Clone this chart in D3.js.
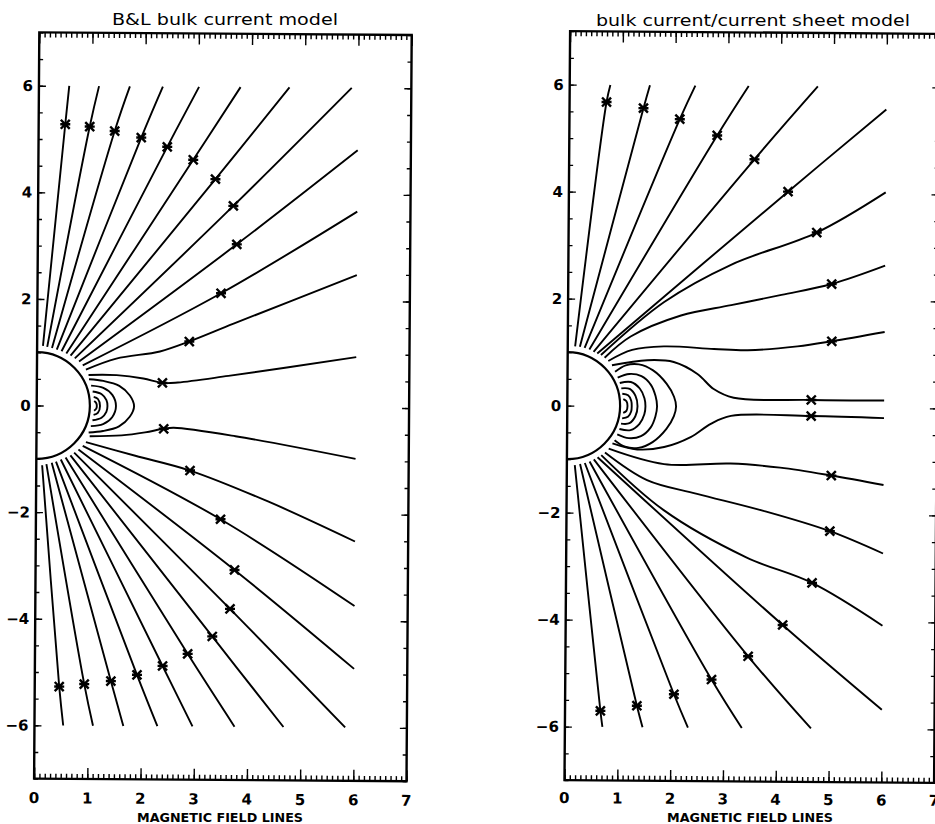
<!DOCTYPE html>
<html>
<head>
<meta charset="utf-8">
<script src="https://d3js.org/d3.v7.min.js"></script>
<style>
body { margin: 0; background: #fff; }
</style>
</head>
<body>
<svg id="viz" width="935" height="824"></svg>
<script>

var xTickLabels = [0, 1, 2, 3, 4, 5, 6, 7];
var yTickLabels = [-6, -4, -2, 0, 2, 4, 6];
var titles = ["B&L bulk current model", "bulk current/current sheet model"];
var xAxisTitle = "MAGNETIC FIELD LINES";
var sunRadius = 1;

// B&L bulk current model: open field lines, one asterisk each
var blLines = [
	[[0.11, 1.12], [0.50, 5.28], [0.57, 6.00]],
	[[0.19, 1.10], [0.96, 5.24], [1.13, 6.00]],
	[[0.28, 1.08], [1.43, 5.16], [1.71, 6.00]],
	[[0.37, 1.05], [1.93, 5.04], [2.33, 6.00]],
	[[0.46, 1.02], [2.42, 4.87], [3.01, 6.00]],
	[[0.55, 0.98], [2.91, 4.63], [3.79, 6.00]],
	[[0.63, 0.94], [3.33, 4.27], [4.71, 6.00]],
	[[0.71, 0.89], [3.67, 3.77], [5.88, 6.00]],
	[[0.79, 0.83], [3.74, 3.05], [6.00, 4.83]],
	[[0.86, 0.76], [3.45, 2.13], [6.00, 3.68]],
	[[0.92, 0.68], [1.49, 0.89], [2.31, 1.03], [2.86, 1.22], [3.69, 1.56], [6.00, 2.49]],
	[[0.97, 0.58], [1.50, 0.58], [2.00, 0.52], [2.36, 0.44], [2.65, 0.45], [3.60, 0.58], [6.00, 0.95]],
	[[1.00, -0.57], [1.60, -0.55], [2.04, -0.49], [2.39, -0.42], [2.58, -0.40], [3.74, -0.55], [6.00, -0.96]],
	[[0.93, -0.68], [1.86, -0.93], [2.89, -1.20], [4.36, -1.77], [6.00, -2.51]],
	[[0.87, -0.75], [3.47, -2.11], [6.00, -3.72]],
	[[0.79, -0.82], [3.74, -3.06], [6.00, -4.90]],
	[[0.71, -0.88], [3.66, -3.79], [5.84, -6.00]],
	[[0.64, -0.93], [3.33, -4.31], [4.68, -6.00]],
	[[0.55, -0.97], [2.87, -4.64], [3.76, -6.00]],
	[[0.46, -1.01], [2.40, -4.87], [2.97, -6.00]],
	[[0.37, -1.05], [1.92, -5.04], [2.31, -6.00]],
	[[0.29, -1.07], [1.43, -5.16], [1.67, -6.00]],
	[[0.19, -1.10], [0.93, -5.22], [1.10, -6.00]],
	[[0.11, -1.12], [0.46, -5.27], [0.54, -6.00]]
];
var blLoops = [
	[[0.98, 0.50], [1.25, 0.47], [1.55, 0.38], [1.75, 0.20], [1.83, 0], [1.75, -0.20], [1.55, -0.38], [1.25, -0.47], [0.98, -0.50]],
	[[1.02, 0.38], [1.25, 0.34], [1.42, 0.21], [1.49, 0], [1.42, -0.21], [1.25, -0.34], [1.02, -0.38]],
	[[1.05, 0.27], [1.22, 0.22], [1.31, 0.11], [1.33, 0], [1.31, -0.11], [1.22, -0.22], [1.05, -0.27]],
	[[1.07, 0.17], [1.15, 0.13], [1.19, 0], [1.15, -0.13], [1.07, -0.17]],
	[[1.08, 0.09], [1.12, 0.05], [1.13, 0], [1.12, -0.05], [1.08, -0.09]]
];
var blStars = [
	[0.50, 5.28], [0.96, 5.24], [1.43, 5.16], [1.93, 5.04], [2.42, 4.87], [2.91, 4.63],
	[3.33, 4.27], [3.67, 3.77], [3.74, 3.05], [3.45, 2.13], [2.86, 1.22], [2.36, 0.44],
	[2.39, -0.42], [2.89, -1.20], [3.47, -2.11], [3.74, -3.06], [3.66, -3.79], [3.33, -4.31],
	[2.87, -4.64], [2.40, -4.87], [1.92, -5.04], [1.43, -5.16], [0.93, -5.22], [0.46, -5.27]
];

// bulk current / current sheet model
var csLines = [
	[[0.14, 1.11], [0.70, 5.68], [0.77, 6.00]],
	[[0.23, 1.10], [1.40, 5.57], [1.52, 6.00]],
	[[0.32, 1.08], [2.09, 5.37], [2.38, 6.00]],
	[[0.41, 1.05], [2.80, 5.07], [3.39, 6.00]],
	[[0.49, 1.01], [3.51, 4.63], [4.70, 6.00]],
	[[0.56, 0.98], [4.15, 4.03], [6.00, 5.58]],
	[[0.63, 0.95], [1.82, 1.95], [3.09, 2.66], [4.70, 3.27], [6.00, 4.03]],
	[[0.70, 0.90], [1.19, 1.30], [2.14, 1.70], [3.09, 1.90], [4.04, 2.10], [4.99, 2.31], [6.00, 2.66]],
	[[0.77, 0.84], [1.22, 1.05], [1.82, 1.12], [2.77, 1.08], [3.41, 1.06], [4.35, 1.14], [5.00, 1.24], [6.00, 1.42]],
	[[0.84, 0.76], [1.51, 0.86], [2.01, 0.83], [2.46, 0.61], [2.77, 0.33], [3.15, 0.17], [4.62, 0.14], [6.00, 0.14]],
	[[0.86, -0.70], [1.33, -0.81], [1.84, -0.76], [2.34, -0.57], [2.72, -0.32], [3.10, -0.17], [4.62, -0.16], [6.00, -0.19]],
	[[0.79, -0.80], [1.84, -1.08], [3.10, -1.06], [4.04, -1.13], [5.01, -1.27], [6.00, -1.44]],
	[[0.72, -0.87], [1.52, -1.38], [2.47, -1.63], [3.73, -1.94], [4.99, -2.31], [6.00, -2.72]],
	[[0.65, -0.92], [1.84, -1.94], [3.41, -2.81], [4.66, -3.28], [6.00, -4.07]],
	[[0.58, -0.96], [4.11, -4.07], [6.00, -5.64]],
	[[0.51, -1.00], [3.46, -4.66], [4.66, -6.00]],
	[[0.43, -1.04], [2.77, -5.10], [3.35, -6.00]],
	[[0.34, -1.07], [2.06, -5.38], [2.33, -6.00]],
	[[0.25, -1.09], [1.36, -5.60], [1.47, -6.00]],
	[[0.15, -1.11], [0.67, -5.70], [0.71, -6.00]]
];
var csLoops = [
	[[0.90, 0.64], [1.10, 0.76], [1.35, 0.78], [1.62, 0.67], [1.88, 0.42], [2.02, 0.18], [2.06, 0], [2.02, -0.18], [1.88, -0.42], [1.62, -0.67], [1.35, -0.78], [1.10, -0.76], [0.90, -0.64]],
	[[0.95, 0.53], [1.17, 0.60], [1.40, 0.56], [1.58, 0.40], [1.67, 0.19], [1.70, 0], [1.67, -0.19], [1.58, -0.40], [1.40, -0.56], [1.17, -0.60], [0.95, -0.53]],
	[[0.99, 0.43], [1.20, 0.45], [1.37, 0.33], [1.46, 0.15], [1.48, 0], [1.46, -0.15], [1.37, -0.33], [1.20, -0.45], [0.99, -0.43]],
	[[1.02, 0.33], [1.18, 0.32], [1.29, 0.19], [1.33, 0], [1.29, -0.19], [1.18, -0.32], [1.02, -0.33]],
	[[1.04, 0.23], [1.15, 0.20], [1.21, 0.10], [1.22, 0], [1.21, -0.10], [1.15, -0.20], [1.04, -0.23]],
	[[1.06, 0.13], [1.12, 0.09], [1.14, 0], [1.12, -0.09], [1.06, -0.13]]
];
var csStars = [
	[0.70, 5.68], [1.40, 5.57], [2.09, 5.37], [2.80, 5.07], [3.51, 4.63], [4.15, 4.03],
	[4.70, 3.27], [4.99, 2.31], [5.00, 1.24], [4.62, 0.14],
	[4.62, -0.16], [5.01, -1.27], [4.99, -2.31], [4.66, -3.28], [4.11, -4.07], [3.46, -4.66],
	[2.77, -5.10], [2.06, -5.38], [1.36, -5.60], [0.67, -5.70]
];

var panels = [
	{title: titles[0], lines: blLines, loops: blLoops, stars: blStars,
	 cx: 222.9, cy: 406.8, ux: 53.2, uy: 53.3, rot: 0.4, labOff: 24.5,
	 titleX: 225, titleY: 25, titleW: 226, labX: 220, labY: 822},
	{title: titles[1], lines: csLines, loops: csLoops, stars: csStars,
	 cx: 752.1, cy: 407.0, ux: 52.8, uy: 53.5, rot: 0.43, labOff: 23,
	 titleX: 753, titleY: 26, titleW: 314, labX: 750, labY: 822}
];

var svg = d3.select("#viz");
var tickFont = "'DejaVu Sans', sans-serif";

panels.forEach(function(p) {
	var x = d3.scaleLinear().domain([0, 7]).range([p.cx - 3.5 * p.ux, p.cx + 3.5 * p.ux]);
	var y = d3.scaleLinear().domain([-7, 7]).range([p.cy + 7 * p.uy, p.cy - 7 * p.uy]);

	var g = svg.append("g")
		.attr("transform", "rotate(" + p.rot + "," + p.cx + "," + p.cy + ")");

	var xMinor = d3.range(0, 71).map(function(i) { return i / 10; });
	var xMajor = xTickLabels;
	var yMinor = d3.range(-14, 15).map(function(i) { return i / 2; });
	var yMajor = yTickLabels;

	function clean(sel) {
		sel.select(".domain").remove();
		sel.selectAll(".tick line").attr("stroke", "#000").attr("stroke-width", 1.4);
		sel.selectAll(".tick text").remove();
	}

	// ticks point into the plot on all four sides
	g.append("g").attr("transform", "translate(0," + y(7) + ")")
		.call(d3.axisBottom(x).tickValues(xMinor).tickSize(5)).call(clean);
	g.append("g").attr("transform", "translate(0," + y(7) + ")")
		.call(d3.axisBottom(x).tickValues(xMajor).tickSize(11)).call(clean);
	g.append("g").attr("transform", "translate(0," + y(-7) + ")")
		.call(d3.axisTop(x).tickValues(xMinor).tickSize(5)).call(clean);
	g.append("g").attr("transform", "translate(0," + y(-7) + ")")
		.call(d3.axisTop(x).tickValues(xMajor).tickSize(11)).call(clean);
	g.append("g").attr("transform", "translate(" + x(0) + ",0)")
		.call(d3.axisRight(y).tickValues(yMinor).tickSize(4)).call(clean);
	g.append("g").attr("transform", "translate(" + x(0) + ",0)")
		.call(d3.axisRight(y).tickValues(yMajor).tickSize(7)).call(clean);
	g.append("g").attr("transform", "translate(" + x(7) + ",0)")
		.call(d3.axisLeft(y).tickValues(yMinor).tickSize(4)).call(clean);
	g.append("g").attr("transform", "translate(" + x(7) + ",0)")
		.call(d3.axisLeft(y).tickValues(yMajor).tickSize(7)).call(clean);

	g.append("rect")
		.attr("x", x(0)).attr("y", y(7))
		.attr("width", x(7) - x(0)).attr("height", y(-7) - y(7))
		.attr("fill", "none").attr("stroke", "#000").attr("stroke-width", 2.4);

	g.selectAll(".xlab").data(xTickLabels).enter().append("text")
		.attr("x", function(d) { return x(d); })
		.attr("y", y(-7) + p.labOff)
		.attr("text-anchor", "middle")
		.style("font-family", tickFont).style("font-weight", "bold").style("font-size", "15px")
		.text(function(d) { return d; });

	g.selectAll(".ylab").data(yTickLabels).enter().append("text")
		.attr("x", x(0) - 6)
		.attr("y", function(d) { return y(d); })
		.attr("dy", "0.36em")
		.attr("text-anchor", "end")
		.style("font-family", tickFont).style("font-weight", "bold").style("font-size", "15px")
		.text(function(d) { return d < 0 ? "\u2212" + (-d) : d; });

	// the body, a half disc of radius 1 on the axis
	g.append("path")
		.attr("d", "M" + x(0) + "," + y(sunRadius) +
			"A" + (x(sunRadius) - x(0)) + "," + (y(0) - y(sunRadius)) + " 0 0 1 " + x(0) + "," + y(-sunRadius))
		.attr("fill", "none").attr("stroke", "#000").attr("stroke-width", 2.2);

	var line = d3.line()
		.x(function(d) { return x(d[0]); })
		.y(function(d) { return y(d[1]); })
		.curve(d3.curveCatmullRom.alpha(0.5));

	g.append("g").selectAll("path").data(p.lines.concat(p.loops)).enter().append("path")
		.attr("d", line)
		.attr("fill", "none").attr("stroke", "#000").attr("stroke-width", 1.9);

	g.append("g").selectAll("path").data(p.stars).enter().append("path")
		.attr("d", function(d) {
			var cx = x(d[0]), cy = y(d[1]);
			return "M" + (cx - 4.5) + "," + (cy - 4.5) + "L" + (cx + 4.5) + "," + (cy + 4.5) +
				"M" + (cx + 4.5) + "," + (cy - 4.5) + "L" + (cx - 4.5) + "," + (cy + 4.5) +
				"M" + (cx - 5) + "," + cy + "L" + (cx + 5) + "," + cy;
		})
		.attr("fill", "none").attr("stroke", "#000").attr("stroke-width", 2.4);

	svg.append("text")
		.attr("x", p.titleX).attr("y", p.titleY)
		.attr("text-anchor", "middle")
		.attr("textLength", p.titleW).attr("lengthAdjust", "spacingAndGlyphs")
		.style("font-family", "'DejaVu Sans', sans-serif").style("font-size", "16px")
		.text(p.title);

	svg.append("text")
		.attr("x", p.labX).attr("y", p.labY)
		.attr("text-anchor", "middle")
		.attr("textLength", 166).attr("lengthAdjust", "spacingAndGlyphs")
		.style("font-family", tickFont).style("font-weight", "bold").style("font-size", "13px")
		.text(xAxisTitle);
});

</script>
</body>
</html>
